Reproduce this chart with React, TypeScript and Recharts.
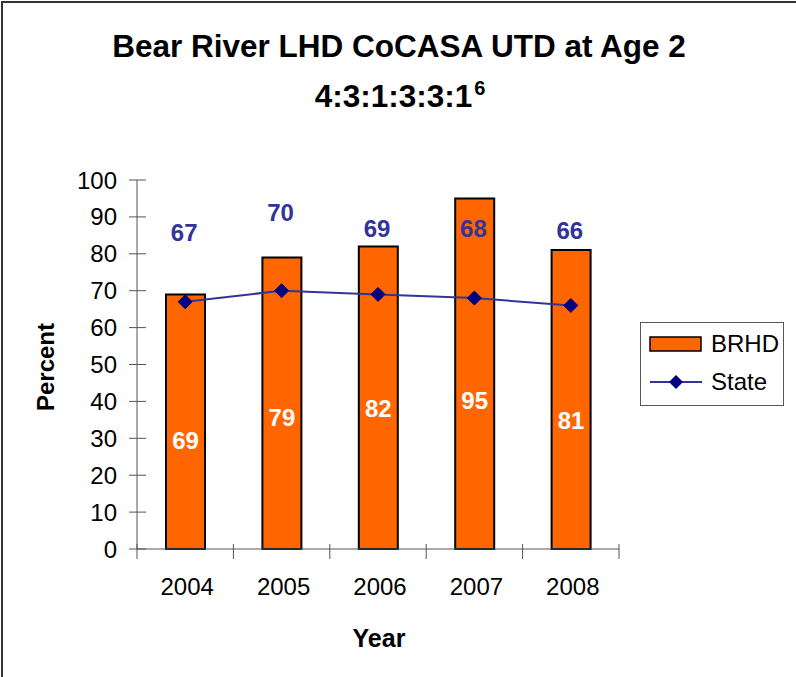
import React from "react";
import {
  ComposedChart,
  Bar,
  Line,
  XAxis,
  YAxis,
  LabelList,
  Label,
} from "recharts";

const years = ["2004", "2005", "2006", "2007", "2008"];
const brhd = [69, 79, 82, 95, 81];
const state = [67, 70, 69, 68, 66];
const yTicks = [0, 10, 20, 30, 40, 50, 60, 70, 80, 90, 100];

// hand placed label heights (px), as in the original sheet
const barLabelLift = [100, 123, 132, 140, 120];
const stateLabelLift = [61, 70, 57, 61, 66];

const FONT = '"Liberation Sans", Arial, Helvetica, sans-serif';
const W = 796;
const H = 677;
const YAXIS_W = 137;
const MARGIN = { top: 180, right: 177, bottom: 28, left: 0 };
const PLOT_W = W - MARGIN.left - MARGIN.right - YAXIS_W;
const AXIS = "#555";
const ORANGE = "#FF6600";
const NAVY_LINE = "#333399";
const NAVY_MARK = "#000080";

const data = years.map((y, i) => ({ year: y, BRHD: brhd[i], State: state[i] }));

function YTick(props: any) {
  const { x, y, payload } = props;
  return (
    <g>
      <line x1={x - 8} x2={x + 9} y1={y} y2={y} stroke={AXIS} strokeWidth={1} />
      <text x={x - 20} y={y} dy="0.355em" textAnchor="end" fontSize={24} fontFamily={FONT} fill="#000">
        {payload.value}
      </text>
    </g>
  );
}

function XTick(props: any) {
  const { x, y, payload, index } = props;
  const half = PLOT_W / years.length / 2;
  return (
    <g>
      <line x1={x - half} x2={x - half} y1={y - 5} y2={y + 10} stroke={AXIS} strokeWidth={1} />
      {index === years.length - 1 && (
        <line x1={x + half} x2={x + half} y1={y - 5} y2={y + 10} stroke={AXIS} strokeWidth={1} />
      )}
      <text x={x + 2} y={y + 46} textAnchor="middle" fontSize={24} fontFamily={FONT} fill="#000">
        {payload.value}
      </text>
    </g>
  );
}

function Diamond(props: any) {
  const { cx, cy } = props;
  if (cx == null || cy == null) return null;
  const r = 7;
  return (
    <path
      d={`M${cx},${cy - r}L${cx + r},${cy}L${cx},${cy + r}L${cx - r},${cy}Z`}
      fill={NAVY_MARK}
      stroke={NAVY_MARK}
    />
  );
}

function BarValue(props: any) {
  const { x, y, width, height, value, index } = props;
  return (
    <text
      x={x + width / 2}
      y={y + height - barLabelLift[index]}
      textAnchor="middle"
      fontSize={24}
      fontWeight="bold"
      fontFamily={FONT}
      fill="#fff"
    >
      {value}
    </text>
  );
}

function StateValue(props: any) {
  const { x, y, value, index } = props;
  return (
    <text
      x={x - 1}
      y={y - stateLabelLift[index]}
      textAnchor="middle"
      fontSize={24}
      fontWeight="bold"
      fontFamily={FONT}
      fill={NAVY_LINE}
    >
      {value}
    </text>
  );
}

function LegendBox() {
  const row: React.CSSProperties = { display: "flex", alignItems: "center", height: 42 };
  return (
    <div
      style={{
        position: "absolute",
        left: 640,
        top: 322,
        width: 142,
        height: 82,
        border: "1px solid #555",
        background: "#fff",
        fontFamily: FONT,
        fontSize: 24,
        color: "#000",
        boxSizing: "content-box",
      }}
    >
      <div style={row}>
        <svg width={62} height={20} style={{ marginLeft: 8 }}>
          <rect x={1} y={3} width={51} height={14} fill={ORANGE} stroke="#000" strokeWidth={1.5} />
        </svg>
        <span>BRHD</span>
      </div>
      <div style={{ ...row, marginTop: -4 }}>
        <svg width={62} height={20} style={{ marginLeft: 8 }}>
          <line x1={1} x2={53} y1={10} y2={10} stroke={NAVY_LINE} strokeWidth={2} />
          <path d="M27,3L34,10L27,17L20,10Z" fill={NAVY_MARK} />
        </svg>
        <span>State</span>
      </div>
    </div>
  );
}

export default function App() {
  return (
    <div style={{ position: "absolute", left: 0, top: 0, width: W, height: H, background: "#fff", overflow: "hidden" }}>
      <div
        style={{
          position: "absolute",
          left: 1,
          top: 1,
          width: W + 20,
          height: H + 20,
          border: "2px solid #333",
          boxSizing: "border-box",
        }}
      />
      <svg width={W} height={130} style={{ position: "absolute", left: 0, top: 0 }}>
        <text x={399} y={57} textAnchor="middle" fontSize={31.5} fontWeight="bold" fontFamily={FONT} fill="#000">
          Bear River LHD CoCASA UTD at Age 2
        </text>
        <text x={400} y={107} textAnchor="middle" fontSize={31.5} fontWeight="bold" fontFamily={FONT} fill="#000">
          4:3:1:3:3:1
          <tspan dy={-12} dx={2} fontSize={20}>6</tspan>
        </text>
      </svg>
      <div style={{ position: "absolute", left: 0, top: 0 }}>
        <ComposedChart width={W} height={H} data={data} margin={MARGIN} barCategoryGap="30%">
          <XAxis
            dataKey="year"
            axisLine={{ stroke: AXIS }}
            tickLine={false}
            tickSize={0}
            tickMargin={0}
            height={100}
            tick={<XTick />}
            interval={0}
          >
            <Label
              content={() => (
                <text x={379} y={647} textAnchor="middle" fontSize={25} fontWeight="bold" fontFamily={FONT} fill="#000">
                  Year
                </text>
              )}
            />
          </XAxis>
          <YAxis
            domain={[0, 100]}
            ticks={yTicks}
            width={YAXIS_W}
            axisLine={{ stroke: AXIS }}
            tickLine={false}
            tickSize={0}
            tickMargin={0}
            tick={<YTick />}
            interval={0}
          >
            <Label
              content={() => (
                <text
                  x={45}
                  y={367}
                  transform="rotate(-90 45 367)"
                  textAnchor="middle"
                  dominantBaseline="central"
                  fontSize={24}
                  fontWeight="bold"
                  fontFamily={FONT}
                  fill="#000"
                >
                  Percent
                </text>
              )}
            />
          </YAxis>
          <Bar dataKey="BRHD" fill={ORANGE} stroke="#000" strokeWidth={2} barSize={39} isAnimationActive={false}>
            <LabelList dataKey="BRHD" content={<BarValue />} />
          </Bar>
          <Line
            dataKey="State"
            stroke={NAVY_LINE}
            strokeWidth={2}
            dot={<Diamond />}
            activeDot={false}
            isAnimationActive={false}
          >
            <LabelList dataKey="State" content={<StateValue />} />
          </Line>
        </ComposedChart>
      </div>
      <LegendBox />
    </div>
  );
}
